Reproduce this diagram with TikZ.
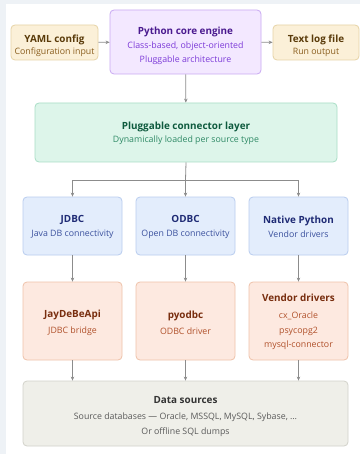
\documentclass[tikz,border=0pt]{standalone}
\usepackage{fontspec}
\setmainfont{Open Sans}
\usetikzlibrary{arrows.meta}
\definecolor{pagebg}{HTML}{EEF2F6}
\definecolor{arrowgray}{HTML}{8C8C8C}
\definecolor{yamlfill}{HTML}{FBF0D8}
\definecolor{yamldraw}{HTML}{E6D3A6}
\definecolor{yamltitle}{HTML}{5A3B0A}
\definecolor{yamlsub}{HTML}{8A5E1E}
\definecolor{corefill}{HTML}{F3E8FF}
\definecolor{coredraw}{HTML}{C9A9F2}
\definecolor{coretitle}{HTML}{4A1A8F}
\definecolor{coresub}{HTML}{7C3AD8}
\definecolor{confill}{HTML}{DDF5EA}
\definecolor{condraw}{HTML}{A9DEC6}
\definecolor{contitle}{HTML}{0E5A3E}
\definecolor{consub}{HTML}{2F8A66}
\definecolor{drvfill}{HTML}{E3EDFC}
\definecolor{drvdraw}{HTML}{B9CDEF}
\definecolor{drvtitle}{HTML}{1F2B75}
\definecolor{drvsub}{HTML}{3B519E}
\definecolor{libfill}{HTML}{FDE9E0}
\definecolor{libdraw}{HTML}{EFC2AA}
\definecolor{libtitle}{HTML}{782D0E}
\definecolor{libsub}{HTML}{B0502A}
\definecolor{srcfill}{HTML}{EFEFE9}
\definecolor{srcdraw}{HTML}{D2D2CA}
\definecolor{srctitle}{HTML}{333333}
\definecolor{srcsub}{HTML}{5A5A5A}
\newcommand\tfnt{\fontsize{9.9}{14}\selectfont\bfseries}
\newcommand\sfnt{\fontsize{8.8}{14}\selectfont}
\tikzset{
  x=1pt, y=-1pt,
  box/.style={draw, rounded corners=4pt, line width=0.8pt, inner sep=0pt},
  txt/.style={align=center, inner sep=0pt, font=\sfnt},
  yamlbox/.style={box, fill=yamlfill, draw=yamldraw},
  corebox/.style={box, fill=corefill, draw=coredraw},
  conbox/.style={box, fill=confill, draw=condraw},
  drvbox/.style={box, fill=drvfill, draw=drvdraw, minimum width=99pt, minimum height=58pt},
  libbox/.style={box, fill=libfill, draw=libdraw, minimum width=99pt, minimum height=78pt},
  srcbox/.style={box, fill=srcfill, draw=srcdraw},
  arr/.style={draw=arrowgray, line width=0.8pt, -{Stealth[length=4pt,width=3.5pt]}},
  ln/.style={draw=arrowgray, line width=0.8pt},
}
\begin{document}
\begin{tikzpicture}
\useasboundingbox (0,0) rectangle (360,454);
\fill[pagebg] (0,0) rectangle (360,454);
\fill[white] (6,4) rectangle (360,454);

% boxes
\node[yamlbox, minimum width=87pt, minimum height=35pt] (yaml) at (54.5,42.5) {};
\node[corebox, minimum width=151pt, minimum height=64pt] (core) at (185.5,42) {};
\node[yamlbox, minimum width=86pt, minimum height=35pt] (log) at (316,42.5) {};
\node[conbox, minimum width=302pt, minimum height=59pt] (con) at (186,132.5) {};
\node[drvbox] (jdbc) at (72.5,226) {};
\node[drvbox] (odbc) at (185.5,226) {};
\node[drvbox] (native) at (298.5,226) {};
\node[libbox] (jay) at (72.5,321) {};
\node[libbox] (pyo) at (185.5,321) {};
\node[libbox] (vend) at (298.5,321) {};
\node[srcbox, minimum width=325pt, minimum height=65pt] (src) at (185.5,413.5) {};

% texts
\node[txt, text=yamlsub] (yamlT) at ([yshift=-3.2pt]yaml.center)
  {{\color{yamltitle}\tfnt YAML config}\\[-2pt]Configuration input};
\node[txt, text=coresub] (coreT) at ([yshift=-3.5pt]core.center)
  {{\color{coretitle}\tfnt Python core engine}\\Class-based, object-oriented\\Pluggable architecture};
\node[txt, text=yamlsub] (logT) at ([yshift=-3.2pt]log.center)
  {{\color{yamltitle}\tfnt Text log file}\\[-2pt]Run output};
\node[txt, text=consub] (conT) at ([yshift=-1pt]con.center)
  {{\color{contitle}\tfnt Pluggable connector layer}\\[-0.7pt]Dynamically loaded per source type};
\node[txt, text=drvsub] (jdbcT) at ([yshift=-1pt]jdbc.center)
  {{\color{drvtitle}\tfnt JDBC}\\Java DB connectivity};
\node[txt, text=drvsub] (odbcT) at ([yshift=-1pt]odbc.center)
  {{\color{drvtitle}\tfnt ODBC}\\Open DB connectivity};
\node[txt, text=drvsub] (nativeT) at ([yshift=-1pt]native.center)
  {{\color{drvtitle}\tfnt Native Python}\\Vendor drivers};
\node[txt, text=libsub] (jayT) at ([yshift=-1.5pt]jay.center)
  {{\color{libtitle}\tfnt JayDeBeApi}\\[2pt]JDBC bridge};
\node[txt, text=libsub] (pyoT) at ([yshift=-1.5pt]pyo.center)
  {{\color{libtitle}\tfnt pyodbc}\\[2pt]ODBC driver};
\node[txt, text=libsub] (vendT) at ([yshift=-1pt]vend.center)
  {{\color{libtitle}\tfnt Vendor drivers}\\[3pt]cx\_Oracle\\[0.5pt]psycopg2\\[0.5pt]mysql-connector};
\node[txt, text=srcsub] (srcT) at ([yshift=-3.5pt]src.center)
  {{\color{srctitle}\tfnt Data sources}\\[2pt]Source databases — Oracle, MSSQL, MySQL, Sybase, …\\[1pt]Or offline SQL dumps};

% connectors
\coordinate (split) at (185.5,180);
\draw[arr] (yaml) -- (core);
\draw[arr] (core) -- (log);
\draw[arr] (core) -- (con);
\draw[ln] (con.south) -- (split);
\draw[arr] (split) -| (jdbc.north);
\draw[arr] (split) -- (odbc.north);
\draw[arr] (split) -| (native.north);
\draw[arr] (jdbc) -- (jay);
\draw[arr] (odbc) -- (pyo);
\draw[arr] (native) -- (vend);
\draw[arr] (jay.south) -- (jay.south |- src.north);
\draw[arr] (pyo.south) -- (pyo.south |- src.north);
\draw[arr] (vend.south) -- (vend.south |- src.north);
\end{tikzpicture}
\end{document}
